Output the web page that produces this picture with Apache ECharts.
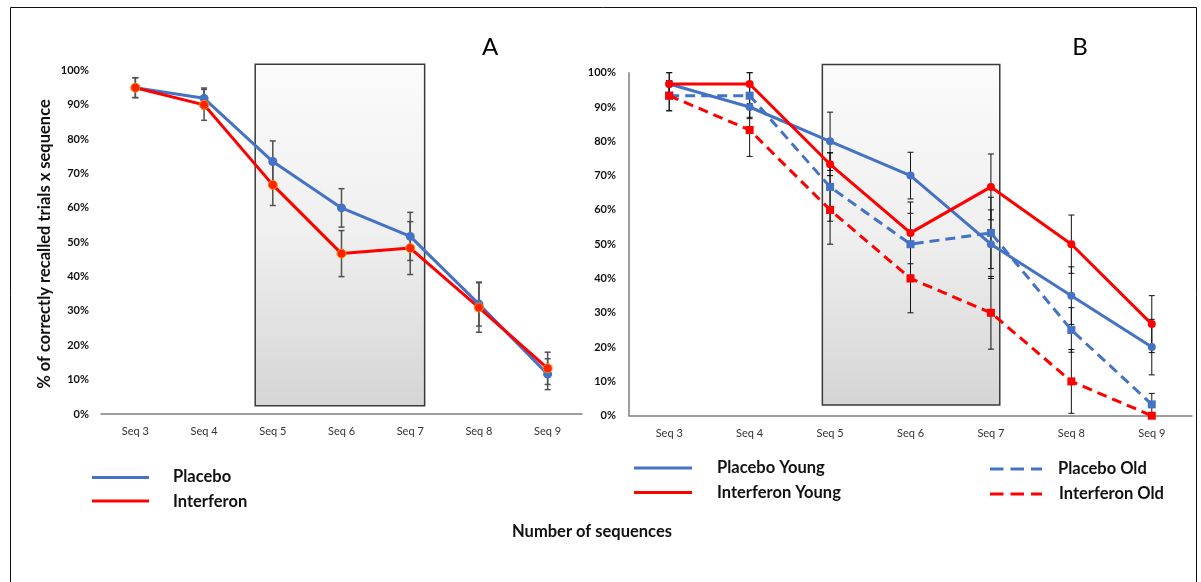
<!DOCTYPE html>
<html>
<head>
<meta charset="utf-8">
<title>Recall by sequence</title>
<script src="https://cdn.jsdelivr.net/npm/echarts@6/dist/echarts.min.js"></script>
<style>
  html, body { margin: 0; padding: 0; background: #fff; }
  #chart { width: 1201px; height: 582px; }
</style>
</head>
<body>
<div id="chart"></div>
<script>
// Sequence categories shared by both panels
const categories = ['Seq 3', 'Seq 4', 'Seq 5', 'Seq 6', 'Seq 7', 'Seq 8', 'Seq 9'];
const yTicks = [0, 10, 20, 30, 40, 50, 60, 70, 80, 90, 100];

// Panel A: % correctly recalled (mean) and error (±)
const placeboA = [95, 91.9, 73.5, 60.0, 51.7, 32.0, 11.6];
const placeboAErr = [2.9, 3.0, 6.0, 5.6, 7.0, 6.4, 4.5];
const interferonA = [95, 90.0, 66.7, 46.7, 48.3, 31.0, 13.3];
const interferonAErr = [2.9, 4.5, 6.0, 6.7, 7.7, 7.2, 4.7];

// Panel B: split by age group
const placeboYoung = [96.7, 90.0, 80.0, 70.0, 50.0, 35.0, 20.0];
const placeboYoungErr = [3.3, 3.0, 8.5, 6.8, 10.0, 8.4, 8.1];
const interferonYoung = [96.7, 96.7, 73.3, 53.3, 66.7, 50.0, 26.7];
const interferonYoungErr = [3.3, 3.3, 3.3, 9.0, 9.6, 8.5, 8.3];
const placeboOld = [93.3, 93.3, 66.7, 50.0, 53.3, 25.0, 3.3];
const placeboOldErr = [4.4, 6.7, 10.0, 9.0, 10.4, 6.5, 3.2];
const interferonOld = [93.3, 83.3, 60.0, 40.0, 30.0, 10.0, 0.0];
const interferonOldErr = [4.4, 7.7, 10.0, 10.0, 10.6, 9.3, 0.0];

// Highlighted block of sequences (shaded box)
const blockRange = ['Seq 5', 'Seq 7'];

const BLUE = '#4472C4';
const RED = '#FF0000';
const FONT = 'Lato, "Open Sans", sans-serif';

function errData(values, errs) {
  return values.map((v, i) => [i, v - errs[i], v + errs[i]]);
}

function errorBarSeries(gridIdx, values, errs, color, width, capHalf) {
  return {
    type: 'custom',
    xAxisIndex: gridIdx, yAxisIndex: gridIdx,
    z: 3,
    silent: true,
    data: errData(values, errs),
    encode: { x: 0, y: [1, 2] },
    renderItem: function (params, api) {
      const x = api.value(0);
      const lo = api.coord([x, api.value(1)]);
      const hi = api.coord([x, api.value(2)]);
      const st = { stroke: color, lineWidth: width };
      return {
        type: 'group',
        children: [
          { type: 'line', shape: { x1: lo[0], y1: lo[1], x2: hi[0], y2: hi[1] }, style: st },
          { type: 'line', shape: { x1: lo[0] - capHalf, y1: lo[1], x2: lo[0] + capHalf, y2: lo[1] }, style: st },
          { type: 'line', shape: { x1: hi[0] - capHalf, y1: hi[1], x2: hi[0] + capHalf, y2: hi[1] }, style: st }
        ]
      };
    }
  };
}

// Shaded box spanning the highlighted sequences
function blockSeries(gridIdx, topVal, bottomVal, padLeft, padRight) {
  const i0 = categories.indexOf(blockRange[0]);
  const i1 = categories.indexOf(blockRange[1]);
  return {
    type: 'custom',
    xAxisIndex: gridIdx, yAxisIndex: gridIdx,
    z: 1,
    silent: true,
    data: [[i0, i1]],
    encode: { x: [0, 1] },
    renderItem: function (params, api) {
      const band = api.size([1, 0])[0];
      const a = api.coord([api.value(0), topVal]);
      const b = api.coord([api.value(1), bottomVal]);
      const x0 = a[0] - band * padLeft;
      const x1 = b[0] + band * padRight;
      return {
        type: 'rect',
        shape: { x: x0, y: a[1], width: x1 - x0, height: b[1] - a[1] },
        style: {
          fill: new echarts.graphic.LinearGradient(0, 0, 0, 1, [
            { offset: 0, color: '#fbfbfb' },
            { offset: 0.5, color: '#efefef' },
            { offset: 1, color: '#d5d5d5' }
          ]),
          stroke: '#3a3a3a',
          lineWidth: 1.5
        }
      };
    }
  };
}

function lineSeries(gridIdx, name, values, color, symbol, size, dashed, itemStyle) {
  return {
    type: 'line',
    name: name,
    xAxisIndex: gridIdx, yAxisIndex: gridIdx,
    z: 4,
    data: values,
    symbol: symbol,
    symbolSize: size,
    showAllSymbol: true,
    animation: false,
    lineStyle: { color: color, width: 3, type: dashed ? [10, 6] : 'solid' },
    itemStyle: itemStyle || { color: color }
  };
}

function xAxisCfg(gridIdx) {
  return {
    type: 'category',
    gridIndex: gridIdx,
    data: categories,
    boundaryGap: true,
    axisLine: { show: true, lineStyle: { color: '#7f7f7f', width: 1.5 } },
    axisTick: { show: false },
    axisLabel: { color: '#333', fontSize: 11, fontFamily: FONT, margin: 12 },
    splitLine: { show: false }
  };
}

function yAxisCfg(gridIdx, showLine, margin) {
  return {
    type: 'value',
    gridIndex: gridIdx,
    min: yTicks[0], max: yTicks[yTicks.length - 1], interval: yTicks[1] - yTicks[0],
    axisLine: { show: showLine, lineStyle: { color: '#7f7f7f', width: 1.5 } },
    axisTick: { show: false },
    splitLine: { show: false },
    axisLabel: { formatter: '{value}%', color: '#111', fontWeight: 'bold', fontSize: 11, fontFamily: FONT, margin: margin }
  };
}

const chart = echarts.init(document.getElementById('chart'), null, { renderer: 'canvas' });

const legendText = { fontSize: 16.5, fontWeight: 'bold', fill: '#111', fontFamily: FONT, textVerticalAlign: 'middle' };

function legendLine(x1, x2, y, color, dashed) {
  return {
    type: 'line',
    shape: { x1: x1, y1: y, x2: x2, y2: y },
    style: { stroke: color, lineWidth: 3, lineDash: dashed ? [13.5, 7] : null }
  };
}
function legendLabel(x, y, text) {
  return { type: 'text', x: x, y: y, style: Object.assign({ text: text }, legendText) };
}

const redMarker = { color: '#ff2200', borderColor: '#ff8a00', borderWidth: 1 };

chart.setOption({
  backgroundColor: '#fff',
  animation: false,
  textStyle: { fontFamily: FONT },
  grid: [
    { left: 101, right: 619, top: 70.5, bottom: 168, containLabel: false },
    { left: 629, right: 9, top: 72.7, bottom: 166.3, containLabel: false }
  ],
  xAxis: [xAxisCfg(0), xAxisCfg(1)],
  yAxis: [yAxisCfg(0, false, 12), yAxisCfg(1, true, 13)],
  series: [
    blockSeries(0, 101.8, 2.4, 0.256, 0.21),
    errorBarSeries(0, placeboA, placeboAErr, '#505050', 1.5, 3),
    errorBarSeries(0, interferonA, interferonAErr, '#505050', 1.5, 3),
    lineSeries(0, 'Placebo', placeboA, BLUE, 'circle', 9, false),
    lineSeries(0, 'Interferon', interferonA, RED, 'circle', 9, false, redMarker),

    blockSeries(1, 102.4, 3.1, 0.096, 0.11),
    errorBarSeries(1, placeboYoung, placeboYoungErr, '#111', 1, 3),
    errorBarSeries(1, interferonYoung, interferonYoungErr, '#111', 1, 3),
    errorBarSeries(1, placeboOld, placeboOldErr, '#111', 1, 3),
    errorBarSeries(1, interferonOld, interferonOldErr, '#111', 1, 3),
    lineSeries(1, 'Placebo Young', placeboYoung, BLUE, 'circle', 8, false),
    lineSeries(1, 'Interferon Young', interferonYoung, RED, 'circle', 8, false),
    lineSeries(1, 'Placebo Old', placeboOld, BLUE, 'rect', 8, true),
    lineSeries(1, 'Interferon Old', interferonOld, RED, 'rect', 8, true)
  ],
  graphic: [
    // outer frame
    { type: 'rect', shape: { x: 10.5, y: 7.5, width: 1186, height: 620 }, style: { fill: 'none', stroke: '#111', lineWidth: 1 }, silent: true },
    // panel letters
    { type: 'text', x: 490, y: 47, style: { text: 'A', fontSize: 24, fill: '#000', fontFamily: FONT, textAlign: 'center', textVerticalAlign: 'middle' } },
    { type: 'text', x: 1080, y: 47, style: { text: 'B', fontSize: 24, fill: '#000', fontFamily: FONT, textAlign: 'center', textVerticalAlign: 'middle' } },
    // y-axis title, panel A
    { type: 'text', x: 45, y: 244, rotation: Math.PI / 2,
      style: { text: '% of correctly recalled trials x sequence', fontSize: 16.5, fontWeight: 'bold', fill: '#111', fontFamily: FONT, textAlign: 'center', textVerticalAlign: 'middle' } },
    // legend, panel A
    legendLine(92, 149, 477.5, BLUE, false),
    legendLabel(173, 477, 'Placebo'),
    legendLine(92, 149, 501, RED, false),
    legendLabel(173, 501.5, 'Interferon'),
    // legend, panel B
    legendLine(634, 692, 468, BLUE, false),
    legendLabel(717, 468, 'Placebo Young'),
    legendLine(634, 692, 492.5, RED, false),
    legendLabel(717, 492.5, 'Interferon Young'),
    legendLine(990, 1042, 469, BLUE, true),
    legendLabel(1058, 469, 'Placebo Old'),
    legendLine(990, 1042, 494, RED, true),
    legendLabel(1059, 494, 'Interferon Old'),
    // shared x-axis title
    { type: 'text', x: 592, y: 532, style: { text: 'Number of sequences', fontSize: 16.5, fontWeight: 'bold', fill: '#111', fontFamily: FONT, textAlign: 'center', textVerticalAlign: 'middle' } }
  ]
});
</script>
</body>
</html>
